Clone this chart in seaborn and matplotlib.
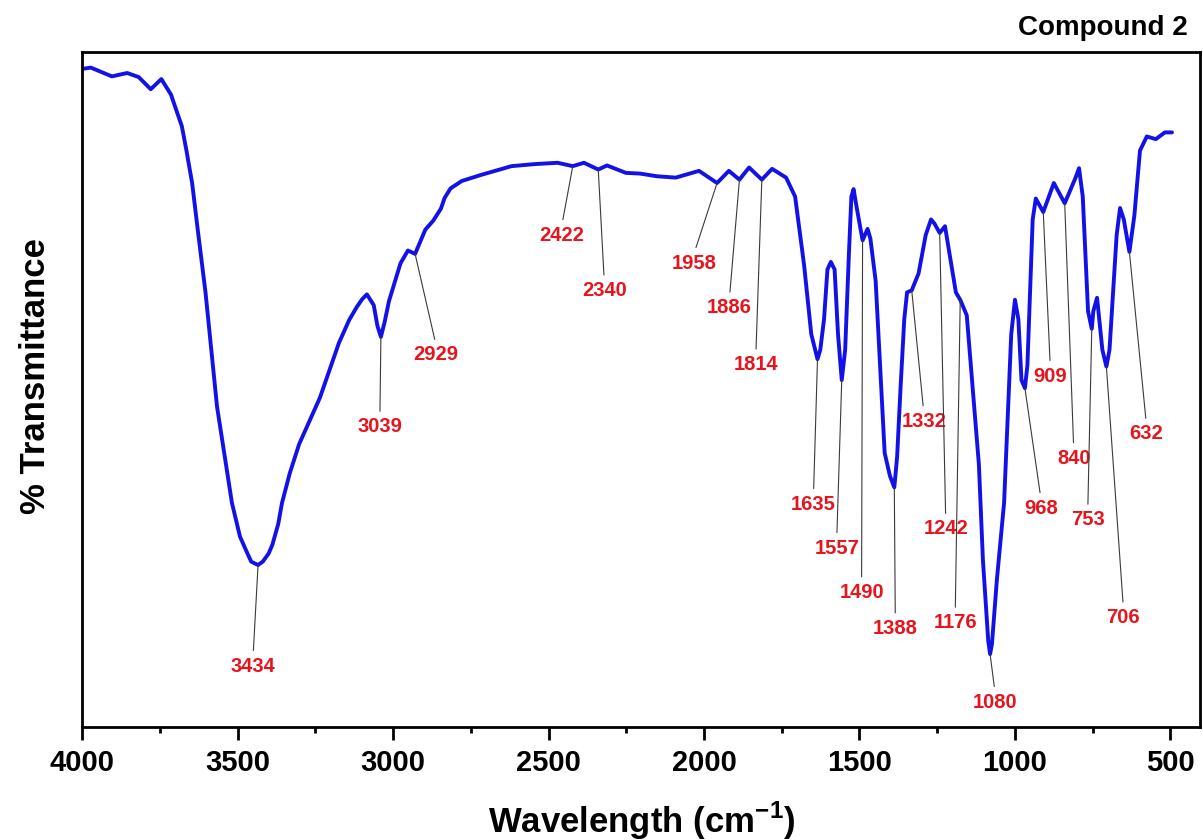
import seaborn as sns
import matplotlib
import matplotlib.pyplot as plt
import pandas as pd
import numpy as np

# spectrum (wavenumber in cm-1, % transmittance)
wavenumber = [
    4000, 3972, 3904, 3855, 3818, 3779, 3745, 3714, 3679, 3665,
    3646, 3628, 3603, 3566, 3518, 3492, 3468, 3456, 3434, 3419,
    3400, 3388, 3369, 3357, 3332, 3302, 3235, 3174, 3141, 3117,
    3099, 3084, 3062, 3050, 3039, 3027, 3013, 2976, 2952, 2929,
    2896, 2871, 2846, 2834, 2815, 2779, 2717, 2619, 2545, 2471,
    2422, 2386, 2340, 2312, 2251, 2206, 2151, 2091, 2016, 1958,
    1920, 1886, 1855, 1814, 1781, 1736, 1707, 1678, 1655, 1635,
    1626, 1614, 1603, 1592, 1580, 1569, 1557, 1546, 1534, 1526,
    1519, 1511, 1490, 1474, 1465, 1448, 1419, 1402, 1388, 1379,
    1368, 1356, 1347, 1332, 1310, 1287, 1270, 1259, 1242, 1225,
    1190, 1176, 1155, 1116, 1103, 1086, 1080, 1074, 1058, 1035,
    1012, 1000, 989, 979, 968, 960, 943, 933, 909, 875,
    840, 805, 794, 782, 765, 753, 748, 736, 719, 706,
    696, 673, 662, 650, 632, 616, 598, 576, 547, 518,
    495,
]
transmittance = [
    97.5, 97.7, 96.4, 96.9, 96.3, 94.5, 96.0, 93.7, 89.0, 85.6,
    80.6, 73.7, 64.4, 47.5, 33.2, 28.2, 25.7, 24.5, 24.0, 24.5,
    25.7, 27.0, 30.1, 33.2, 37.6, 41.9, 48.8, 56.9, 60.3, 62.2,
    63.4, 64.1, 62.5, 59.4, 57.8, 60.0, 63.1, 68.7, 70.6, 70.1,
    73.7, 75.0, 76.8, 78.4, 79.8, 80.9, 81.8, 83.1, 83.4, 83.6,
    83.1, 83.6, 82.6, 83.2, 82.1, 82.0, 81.6, 81.4, 82.4, 80.6,
    82.4, 81.1, 82.9, 81.1, 82.7, 81.4, 78.6, 68.4, 58.2, 54.5,
    55.9, 60.4, 67.8, 68.9, 67.8, 58.2, 51.4, 55.9, 70.1, 78.6,
    79.7, 77.5, 72.1, 73.8, 72.4, 66.1, 40.6, 37.2, 35.5, 40.0,
    50.2, 60.4, 64.4, 64.7, 67.2, 72.9, 75.2, 74.6, 73.2, 74.2,
    64.4, 63.3, 61.0, 38.9, 24.7, 12.8, 10.8, 12.3, 21.9, 33.2,
    58.2, 63.3, 60.4, 51.4, 50.2, 53.6, 75.2, 78.3, 76.3, 80.6,
    77.6, 81.4, 82.8, 78.6, 61.6, 59.0, 61.6, 63.6, 55.9, 53.4,
    55.9, 72.9, 76.9, 75.2, 70.4, 75.8, 85.4, 87.5, 87.1, 88.1,
    88.1,
]

# labelled bands
peaks = [3434, 3039, 2929, 2422, 2340, 1958, 1886, 1814, 1635, 1557, 1490,
         1388, 1332, 1242, 1176, 1080, 968, 909, 840, 753, 706, 632]
# label placement relative to the band (pixels right, pixels down)
label_offsets = [(-5, 101), (-1, 90), (21, 101), (-11, 69), (6, 121),
                 (-23, 80), (-10, 128), (-6, 185), (-4, 145), (-5, 168),
                 (-1, 352), (1, 141), (12, 131), (6, 296), (-5, 323),
                 (5, 48), (16, 120), (7, 164), (9, 255), (-4, 191),
                 (17, 251), (17, 182)]

sns.set_theme(style="white")
plt.rcParams.update(
    {
        "font.family": ["Liberation Sans", "DejaVu Sans"],
        "mathtext.fontset": "custom",
        "mathtext.rm": "Liberation Sans",
        "mathtext.bf": "Liberation Sans:bold",
        "axes.linewidth": 2.0,
        "axes.edgecolor": "black",
        "text.color": "black",
        "axes.labelcolor": "black",
        "xtick.color": "black",
    }
)

df = pd.DataFrame({"wn": wavenumber, "T": transmittance})

fig = plt.figure(figsize=(12.03, 8.4), dpi=100)
ax = fig.add_axes([0.0682, 0.1345, 0.9293, 0.8035])

sns.lineplot(ax=ax, data=df, x="wn", y="T", sort=False, estimator=None,
             color="#1212E8", linewidth=2.8)

ax.set_xlim(4000, 405)
ax.set_ylim(0, 100)
ax.set_xticks(np.arange(4000, 499, -500))
ax.set_xticks(np.arange(3750, 499, -500), minor=True)
ax.set_yticks([])
ax.tick_params(axis="x", which="major", direction="out", length=9, width=2,
               pad=7, labelsize=21, bottom=True)
ax.tick_params(axis="x", which="minor", direction="out", length=4.5, width=2,
               bottom=True)
for lab in ax.get_xticklabels():
    lab.set_fontweight("bold")

ax.set_xlabel(r"Wavelength (cm$^{\mathbf{-1}}$)", fontsize=25,
              fontweight="bold", va="baseline")
ax.xaxis.set_label_coords(0.501, -0.157)
ax.set_ylabel("% Transmittance", fontsize=25, fontweight="bold", va="center")
ax.yaxis.set_label_coords(-0.042, 0.52)

ax.text(0.989, 1.0356, "Compound 2", transform=ax.transAxes, ha="right",
        va="center", fontsize=20, fontweight="bold")

lookup = dict(zip(wavenumber, transmittance))
for wn, (dx, dy) in zip(peaks, label_offsets):
    ax.annotate(
        str(wn),
        xy=(wn, lookup[wn]),
        xytext=(dx, -dy),
        textcoords="offset pixels",
        ha="center",
        va="center",
        fontsize=14.5,
        fontweight="bold",
        color="#E8141C",
        arrowprops=dict(arrowstyle="-", color="#3A3A3A", lw=0.8,
                        relpos=(0.5, 1.0), shrinkA=2, shrinkB=0),
    )

for side in ["top", "right", "bottom", "left"]:
    ax.spines[side].set_visible(True)
    ax.spines[side].set_color("black")

fig.savefig("out.png", dpi=100)
